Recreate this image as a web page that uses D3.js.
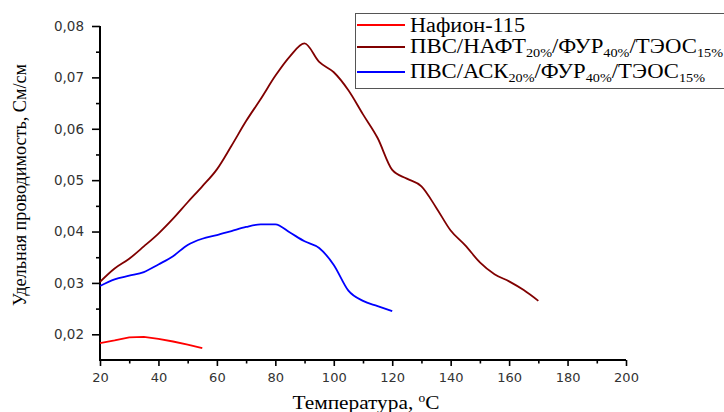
<!DOCTYPE html>
<html>
<head>
<meta charset="utf-8">
<script src="https://cdn.jsdelivr.net/npm/d3@7/dist/d3.min.js"></script>
<style>
  html, body { margin: 0; padding: 0; background: #fff; }
  svg { display: block; }
</style>
</head>
<body>
<svg id="chart" width="724" height="412"></svg>
<script>
// temperature, °C and conductivity, S/cm
const tempNafion = [20, 25, 30, 35, 40, 45, 50, 55];
const condNafion = [0.0183, 0.0188, 0.0194, 0.0195, 0.0191, 0.0186, 0.0180, 0.0173];

const tempNaft = [20, 25, 30, 35, 40, 45, 50, 55, 60, 65, 70, 75, 80, 85, 90, 95, 100,
  105, 110, 115, 120, 125, 130, 135, 140, 145, 150, 155, 160, 165, 170];
const condNaft = [0.0302, 0.0328, 0.0347, 0.0371, 0.0396, 0.0425, 0.0457, 0.0488, 0.0521,
  0.0567, 0.0615, 0.0658, 0.0703, 0.0741, 0.0766, 0.0730, 0.0710, 0.0675, 0.0628, 0.0582,
  0.0520, 0.0503, 0.0488, 0.0447, 0.0402, 0.0373, 0.0340, 0.0317, 0.0303, 0.0286, 0.0265];

const tempAsk = [20, 25, 30, 35, 40, 45, 50, 55, 60, 65, 70, 75, 80, 85, 90, 95, 100,
  105, 110, 115, 120];
const condAsk = [0.0294, 0.0307, 0.0314, 0.0321, 0.0336, 0.0352, 0.0374, 0.0386, 0.0393,
  0.0401, 0.0409, 0.0414, 0.0414, 0.0398, 0.0381, 0.0368, 0.0335, 0.0285, 0.0265, 0.0255,
  0.0245];

const xTicks = [20, 40, 60, 80, 100, 120, 140, 160, 180, 200];
const yTicks = [0.02, 0.03, 0.04, 0.05, 0.06, 0.07, 0.08];

const series = [
  { name: "Нафион-115", x: tempNafion, y: condNafion, color: "#ff0000", curve: d3.curveLinear },
  { name: ["ПВС/НАФТ", "20%", "/ФУР", "40%", "/ТЭОС", "15%"], x: tempNaft, y: condNaft, color: "#800000", curve: d3.curveMonotoneX },
  { name: ["ПВС/АСК", "20%", "/ФУР", "40%", "/ТЭОС", "15%"], x: tempAsk, y: condAsk, color: "#0000ff", curve: d3.curveMonotoneX }
];

const svg = d3.select("#chart");

const x = d3.scaleLinear().domain([20, 200]).range([100, 626]);
const y = d3.scaleLinear().domain([0.015, 0.08]).range([360, 26]);

// minor ticks first
const xMinor = d3.range(30, 200, 20);
const yMinor = d3.range(0.025, 0.08, 0.01);

svg.append("g")
  .attr("transform", "translate(0,360)")
  .call(d3.axisBottom(x).tickValues(xMinor).tickSize(3.5).tickSizeOuter(0).tickFormat(""))
  .call(g => g.select(".domain").remove())
  .call(g => g.selectAll("line").attr("stroke-width", 1.6));

svg.append("g")
  .attr("transform", "translate(100,0)")
  .call(d3.axisLeft(y).tickValues(yMinor).tickSize(4).tickSizeOuter(0).tickFormat(""))
  .call(g => g.select(".domain").remove())
  .call(g => g.selectAll("line").attr("stroke-width", 1.6));

// major ticks
const fmtY = v => d3.format(".2f")(v).replace(".", ",");

svg.append("g")
  .attr("transform", "translate(0,360)")
  .call(d3.axisBottom(x).tickValues(xTicks).tickSize(6).tickPadding(7).tickSizeOuter(0).tickFormat(d3.format("d")))
  .call(g => g.select(".domain").remove())
  .call(g => g.selectAll("line").attr("stroke-width", 1.6))
  .call(g => g.selectAll("text")
    .attr("font-family", "DejaVu Sans, sans-serif")
    .attr("font-size", 13)
    .attr("fill", "#333"));

svg.append("g")
  .attr("transform", "translate(100,0)")
  .call(d3.axisLeft(y).tickValues(yTicks).tickSize(8).tickPadding(8).tickSizeOuter(0).tickFormat(fmtY))
  .call(g => g.select(".domain").remove())
  .call(g => g.selectAll("line").attr("stroke-width", 1.6))
  .call(g => g.selectAll("text")
    .attr("font-family", "DejaVu Sans, sans-serif")
    .attr("font-size", 13.5)
    .attr("fill", "#333"));

// axis lines
svg.append("line")
  .attr("x1", 100).attr("x2", 100).attr("y1", y(0.08)).attr("y2", 361)
  .attr("stroke", "#000").attr("stroke-width", 2);
svg.append("line")
  .attr("x1", 99).attr("x2", x(200)).attr("y1", 360).attr("y2", 360)
  .attr("stroke", "#000").attr("stroke-width", 2);

// curves
series.forEach(s => {
  const pts = s.x.map((t, i) => [t, s.y[i]]);
  svg.append("path")
    .datum(pts)
    .attr("fill", "none")
    .attr("stroke", s.color)
    .attr("stroke-width", 1.8)
    .attr("d", d3.line().x(d => x(d[0])).y(d => y(d[1])).curve(s.curve));
});

// axis titles
svg.append("text")
  .attr("transform", "translate(26,185) rotate(-90)")
  .attr("text-anchor", "middle")
  .attr("font-family", "Liberation Serif, Times New Roman, serif")
  .attr("font-size", 19)
  .attr("textLength", 242)
  .attr("lengthAdjust", "spacingAndGlyphs")
  .text("Удельная проводимость, См/см");

const xt = svg.append("text")
  .attr("x", 366).attr("y", 409)
  .attr("text-anchor", "middle")
  .attr("font-family", "Liberation Serif, Times New Roman, serif")
  .attr("font-size", 19)
  .attr("textLength", 147)
  .attr("lengthAdjust", "spacingAndGlyphs");
xt.append("tspan").text("Температура, ");
xt.append("tspan").attr("font-size", 12).attr("dy", -7).text("o");
xt.append("tspan").attr("dy", 7).text("C");

// legend
const legend = svg.append("g");
legend.append("rect")
  .attr("x", 355.5).attr("y", 13.5).attr("width", 380).attr("height", 75)
  .attr("fill", "#fff").attr("stroke", "#555").attr("stroke-width", 1);

const rowLine = [25, 47, 72];
const rowText = [31.5, 53, 78];
const rowLen = [115, 313, 295];

series.forEach((s, i) => {
  legend.append("line")
    .attr("x1", 357).attr("x2", 405).attr("y1", rowLine[i]).attr("y2", rowLine[i])
    .attr("stroke", s.color).attr("stroke-width", 1.8);
  const t = legend.append("text")
    .attr("x", 410).attr("y", rowText[i])
    .attr("font-family", "Liberation Serif, Times New Roman, serif")
    .attr("font-size", 20)
    .attr("textLength", rowLen[i])
    .attr("lengthAdjust", "spacingAndGlyphs");
  if (typeof s.name === "string") {
    t.text(s.name);
  } else {
    s.name.forEach((part, k) => {
      const sub = k % 2 === 1;
      t.append("tspan")
        .attr("font-size", sub ? 12.5 : 20)
        .attr("dy", sub ? 4 : (k > 0 ? -4 : 0))
        .text(part);
    });
  }
});
</script>
</body>
</html>
